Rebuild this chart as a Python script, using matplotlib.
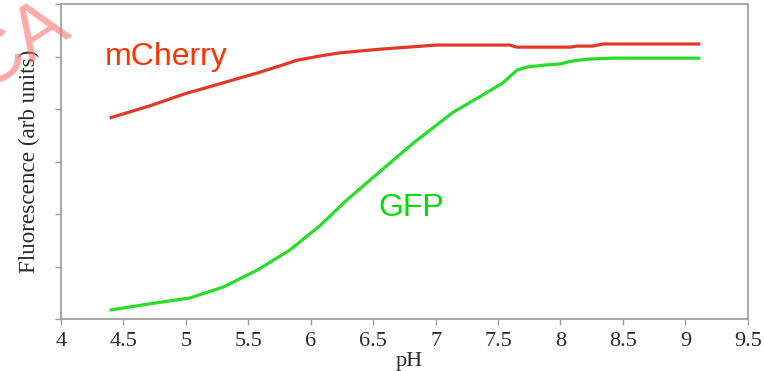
import matplotlib
matplotlib.use("Agg")
import matplotlib.pyplot as plt

# values (fluorescence in tick units, arb)
ph_cherry = [4.39, 4.71, 4.99, 5.27, 5.59, 5.75, 5.89, 6.07, 6.23, 6.55,
             7.01, 7.59, 7.65, 8.08, 8.13, 8.26, 8.34, 9.12]
mcherry = [3.83, 4.06, 4.29, 4.48, 4.70, 4.82, 4.93, 5.01, 5.07, 5.14,
           5.22, 5.22, 5.18, 5.18, 5.20, 5.20, 5.24, 5.24]

ph_gfp = [4.39, 4.71, 5.03, 5.30, 5.57, 5.83, 6.07, 6.29, 6.55, 6.82,
          7.14, 7.35, 7.54, 7.65, 7.73, 7.88, 8.00, 8.08, 8.21, 8.42, 9.12]
gfp = [0.17, 0.29, 0.40, 0.61, 0.93, 1.31, 1.77, 2.27, 2.80, 3.35,
       3.94, 4.23, 4.50, 4.74, 4.80, 4.84, 4.86, 4.91, 4.95, 4.97, 4.97]

x_ticks = [4, 4.5, 5, 5.5, 6, 6.5, 7, 7.5, 8, 8.5, 9, 9.5]
x_labels = ["4", "4.5", "5", "5.5", "6", "6.5", "7", "7.5", "8", "8.5", "9", "9.5"]
y_ticks = [0, 1, 2, 3, 4, 5, 6]

fig = plt.figure(figsize=(7.64, 3.71), dpi=100)
ax = fig.add_axes([0.0798, 0.140, 0.899, 0.849])

ax.plot(ph_cherry, mcherry, color="#e2382a", lw=2.3, solid_capstyle="butt")
ax.plot(ph_gfp, gfp, color="#27dd27", lw=2.3, solid_capstyle="butt")

ax.text(4.35, 5.0, "mCherry", color="#ff3300", fontsize=23,
        family="Liberation Sans", ha="left", va="center")
ax.text(6.54, 2.11, "GFP", color="#00dd00", fontsize=23,
        family="Liberation Sans", ha="left", va="center")

ax.set_xlim(4, 9.5)
ax.set_ylim(0, 6)
ax.set_xticks(x_ticks)
ax.set_xticklabels(x_labels)
ax.set_yticks(y_ticks)
ax.set_yticklabels([])

for s in ax.spines.values():
    s.set_color("#9a9a9a")
    s.set_linewidth(1.2)
ax.tick_params(direction="out", length=4, color="#9a9a9a", width=1,
               labelsize=16, labelcolor="#2a2a2a", pad=5)
for lab in ax.get_xticklabels():
    lab.set_family("Liberation Serif")

ax.set_xlabel("pH", family="Liberation Serif", fontsize=16, color="#2a2a2a",
              labelpad=1, x=0.507)
ax.set_ylabel("Fluorescence (arb units)", family="Liberation Serif", fontsize=16.7,
              color="#2a2a2a", labelpad=6)

# faded watermark in the top-left corner, partly off the canvas
fig.text(-0.021, 0.755, "CA", color="#ff7070", alpha=0.6, fontsize=55,
         family="Liberation Sans", rotation=33, rotation_mode="anchor",
         ha="left", va="baseline")

fig.savefig("out.png", dpi=100)
